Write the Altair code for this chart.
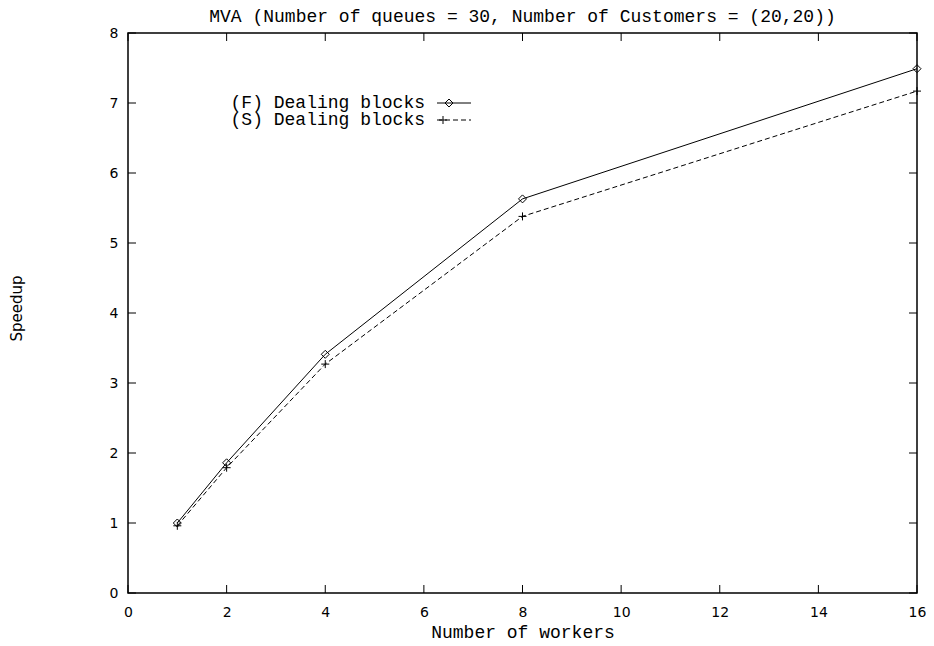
import altair as alt
import pandas as pd

workers = [1, 2, 4, 8, 16]
speedup_f = [1.00, 1.86, 3.41, 5.63, 7.49]
speedup_s = [0.96, 1.79, 3.27, 5.38, 7.17]
series_labels = ["(F) Dealing blocks", "(S) Dealing blocks"]
x_ticks = [0, 2, 4, 6, 8, 10, 12, 14, 16]
y_ticks = [0, 1, 2, 3, 4, 5, 6, 7, 8]
title_text = "MVA (Number of queues = 30, Number of Customers = (20,20))"
x_title = "Number of workers"
y_title = "Speedup"

W, H = 789, 560
MONO = "Liberation Mono"
SANS = "DejaVu Sans"
DIAMOND = "M-1,0L0,-1L1,0L0,1Z"
PLUS = "M-1,0L1,0M0,-1L0,1"

df_f = pd.DataFrame({"workers": workers, "speedup": speedup_f})
df_s = pd.DataFrame({"workers": workers, "speedup": speedup_s})
df_xt = pd.DataFrame({"workers": x_ticks})
df_yt = pd.DataFrame({"speedup": y_ticks})

xs = alt.Scale(domain=[0, 16], nice=False, zero=False)
ys = alt.Scale(domain=[0, 8], nice=False, zero=False)

x_axis = alt.Axis(values=x_ticks, format="d", ticks=False, domain=False, grid=False,
                  labelFlush=False,
                  labelFont=SANS, labelFontSize=14, labelColor="black", labelPadding=12,
                  title=x_title, titleFont=MONO, titleFontSize=18, titleFontWeight="normal",
                  titleColor="black", titleY=44, titleBaseline="alphabetic")
y_axis = alt.Axis(values=y_ticks, format="d", ticks=False, domain=False, grid=False,
                  labelFlush=False,
                  labelFont=SANS, labelFontSize=14, labelColor="black", labelPadding=10,
                  title=y_title, titleFont=SANS, titleFontSize=15, titleFontWeight="normal",
                  titleColor="black", titleAngle=270, titleX=-112, titleY=H / 2 - 5,
                  titleAlign="center", titleBaseline="middle")

X = alt.X("workers:Q", scale=xs, axis=x_axis)
Y = alt.Y("speedup:Q", scale=ys, axis=y_axis)

line_f = alt.Chart(df_f).mark_line(color="black", strokeWidth=1).encode(x=X, y=Y)
pts_f = alt.Chart(df_f).mark_point(shape=DIAMOND, filled=False, color="black", size=64,
                                   strokeWidth=1, opacity=1).encode(x=X, y=Y)
line_s = alt.Chart(df_s).mark_line(color="black", strokeWidth=1, strokeDash=[5, 3]).encode(x=X, y=Y)
pts_s = alt.Chart(df_s).mark_point(shape=PLUS, filled=False, color="black", size=64,
                                   strokeWidth=1, opacity=1).encode(x=X, y=Y)

TL = 8
tick_b = alt.Chart(df_xt).mark_rule(color="black", strokeWidth=1).encode(
    x=X, y=alt.value(H), y2=alt.value(H - TL))
tick_t = alt.Chart(df_xt).mark_rule(color="black", strokeWidth=1).encode(
    x=X, y=alt.value(0), y2=alt.value(TL))
tick_l = alt.Chart(df_yt).mark_rule(color="black", strokeWidth=1).encode(
    y=Y, x=alt.value(0), x2=alt.value(TL))
tick_r = alt.Chart(df_yt).mark_rule(color="black", strokeWidth=1).encode(
    y=Y, x=alt.value(W), x2=alt.value(W - TL))

# legend (drawn inside plot like gnuplot key)
LX_TEXT = 297
LX1, LX2 = 309, 343
LY = [70, 87]
leg_df = pd.DataFrame({"label": series_labels})
leg_layers = []
for i, (dash, shape, mx) in enumerate([(None, DIAMOND, 321), ([5, 3], PLUS, 315)]):
    d = leg_df.iloc[[i]]
    leg_layers.append(alt.Chart(d).mark_text(font=MONO, fontSize=18, align="right",
                                             baseline="middle", color="black").encode(
        text="label:N", x=alt.value(LX_TEXT), y=alt.value(LY[i])))
    rule_kwargs = dict(color="black", strokeWidth=1)
    if dash:
        rule_kwargs["strokeDash"] = dash
    leg_layers.append(alt.Chart(d).mark_rule(**rule_kwargs).encode(
        x=alt.value(LX1), x2=alt.value(LX2), y=alt.value(LY[i])))
    leg_layers.append(alt.Chart(d).mark_point(shape=shape, filled=False, color="black",
                                              size=64, strokeWidth=1, opacity=1).encode(
        x=alt.value(mx), y=alt.value(LY[i])))

chart = alt.layer(line_f, pts_f, line_s, pts_s, tick_b, tick_t, tick_l, tick_r,
                  *leg_layers).properties(
    width=W, height=H,
    background="white",
    title=alt.TitleParams(title_text, font=MONO, fontSize=18, fontWeight="normal",
                          color="black", offset=0, anchor="middle", frame="group"),
    autosize=alt.AutoSizeParams(type="none"),
    padding={"left": 120, "top": 25, "right": 9, "bottom": 50},
).configure_view(stroke="black", strokeWidth=1.5)

chart.save("out.html", embed_options={"renderer": "svg", "actions": False})
